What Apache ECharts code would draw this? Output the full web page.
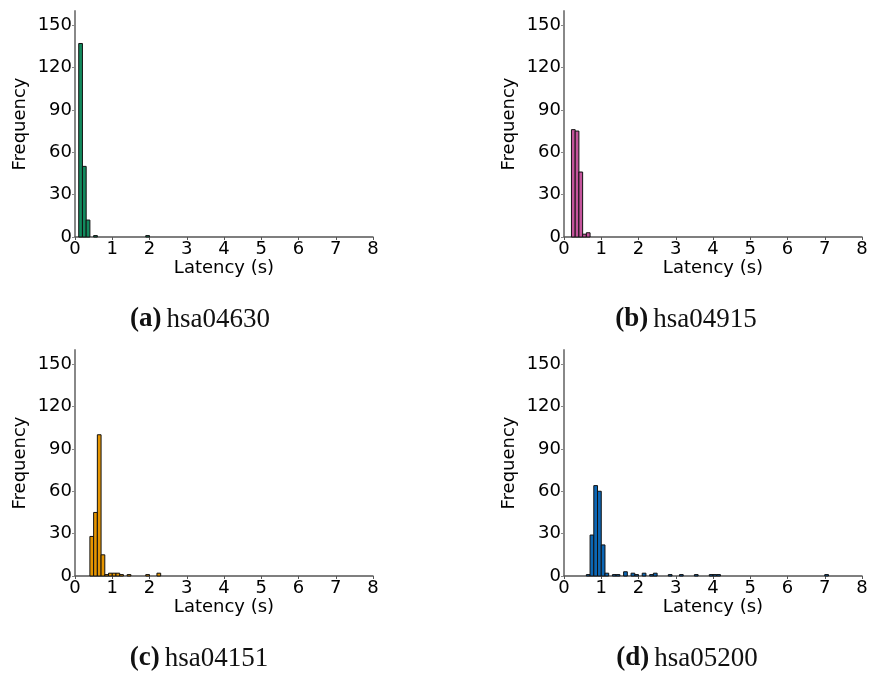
<!DOCTYPE html>
<html>
<head>
<meta charset="utf-8">
<script src="https://cdn.jsdelivr.net/npm/echarts@6/dist/echarts.min.js"></script>
<style>
  html, body { margin: 0; padding: 0; background: #fff; }
  #chart { width: 872px; height: 675px; }
</style>
</head>
<body>
<div id="chart"></div>
<script>
// histogram bins: left edge of each bin (s) and its count, bin width 0.1 s
const binWidth = 0.1;
const binsA = [0.1, 0.2, 0.3, 0.5, 1.9];
const countsA = [137, 50, 12, 1, 1];
const binsB = [0.2, 0.3, 0.4, 0.5, 0.6];
const countsB = [76, 75, 46, 2, 3];
const binsC = [0.4, 0.5, 0.6, 0.7, 0.8, 0.9, 1.0, 1.1, 1.2, 1.4, 1.9, 2.2];
const countsC = [28, 45, 100, 15, 1, 2, 2, 2, 1, 1, 1, 2];
const binsD = [0.6, 0.7, 0.8, 0.9, 1.0, 1.1, 1.3, 1.4, 1.6, 1.8, 1.9, 2.1, 2.3, 2.4, 2.8, 3.1, 3.5, 3.9, 4.0, 4.1, 7.0];
const countsD = [1, 29, 64, 60, 22, 2, 1, 1, 3, 2, 1, 2, 1, 2, 1, 1, 1, 1, 1, 1, 1];

const yTicks = [0, 30, 60, 90, 120, 150];
const xTicks = [0, 1, 2, 3, 4, 5, 6, 7, 8];

const panels = [
  { tag: '(a)', name: 'hsa04630', bins: binsA, counts: countsA, color: '#138a5e', left: 75, top: 11, capX: 195 },
  { tag: '(b)', name: 'hsa04915', bins: binsB, counts: countsB, color: '#c4549c', left: 564, top: 11, capX: 681 },
  { tag: '(c)', name: 'hsa04151', bins: binsC, counts: countsC, color: '#e69500', left: 75, top: 350, capX: 194 },
  { tag: '(d)', name: 'hsa05200', bins: binsD, counts: countsD, color: '#0b66b5', left: 564, top: 350, capX: 682 }
];

const plotW = 298;
const plotH = 226;
const font = 'DejaVu Sans';

const chart = echarts.init(document.getElementById('chart'));

chart.setOption({
  animation: false,
  backgroundColor: '#fff',
  title: panels.map(p => ({
    text: '{b|' + p.tag + '} {n|' + p.name + '}',
    left: p.capX,
    top: p.top + plotH + 64,
    textAlign: 'center',
    textStyle: {
      fontWeight: 'normal',
      rich: {
        b: { fontFamily: 'Liberation Serif', fontWeight: 'bold', fontSize: 27, color: '#111' },
        n: { fontFamily: 'Liberation Serif', fontWeight: 'normal', fontSize: 27, color: '#111' }
      }
    }
  })),
  grid: panels.map(p => ({
    left: p.left, top: p.top, width: plotW, height: plotH, containLabel: false
  })),
  xAxis: panels.map((p, i) => ({
    type: 'value',
    gridIndex: i,
    min: 0,
    max: 8,
    interval: 1,
    name: 'Latency (s)',
    nameLocation: 'middle',
    nameGap: 22,
    nameTextStyle: { fontFamily: font, fontSize: 18, color: '#000' },
    axisLine: { show: true, lineStyle: { color: '#555', width: 1.5 } },
    axisTick: { show: true, length: 3, lineStyle: { color: '#555' }, customValues: xTicks },
    axisLabel: { fontFamily: font, fontSize: 18, color: '#000', margin: 3, customValues: xTicks },
    splitLine: { show: false }
  })),
  yAxis: panels.map((p, i) => ({
    type: 'value',
    gridIndex: i,
    min: 0,
    max: 160,
    interval: 30,
    name: 'Frequency',
    nameLocation: 'middle',
    nameGap: 46,
    nameTextStyle: { fontFamily: font, fontSize: 18, color: '#000' },
    axisLine: { show: true, lineStyle: { color: '#888', width: 2 } },
    axisTick: { show: true, length: 3, lineStyle: { color: '#888' }, customValues: yTicks },
    axisLabel: { fontFamily: font, fontSize: 18, color: '#000', margin: 3, customValues: yTicks },
    splitLine: { show: false }
  })),
  series: panels.map((p, i) => ({
    type: 'custom',
    xAxisIndex: i,
    yAxisIndex: i,
    encode: { x: 0, y: 1 },
    data: p.bins.map((b, k) => [b, p.counts[k]]),
    renderItem: (params, api) => {
      const x0 = api.value(0);
      const n = api.value(1);
      const p0 = api.coord([x0, 0]);
      const p1 = api.coord([x0 + binWidth, n]);
      return {
        type: 'rect',
        shape: { x: p0[0], y: p1[1], width: p1[0] - p0[0], height: p0[1] - p1[1] },
        style: { fill: p.color, stroke: '#111', lineWidth: 1 }
      };
    }
  }))
});
</script>
</body>
</html>
